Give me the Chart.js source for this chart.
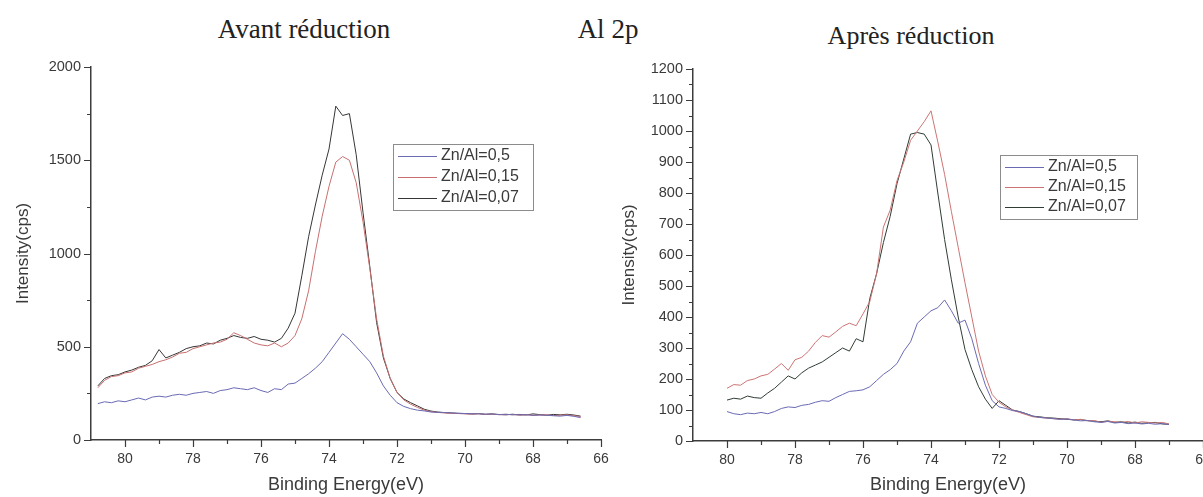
<!DOCTYPE html>
<html>
<head>
<meta charset="utf-8">
<script src="https://cdn.jsdelivr.net/npm/chart.js@4.4.0/dist/chart.umd.min.js"></script>
<style>
  html, body { margin: 0; padding: 0; background: #fff; }
  body { width: 1203px; height: 497px; position: relative; overflow: hidden; }
  .title {
    position: absolute;
    font-family: "Liberation Serif", "Times New Roman", serif;
    color: #222;
    line-height: 1;
    white-space: nowrap;
    transform: translateX(-50%);
  }
  canvas { position: absolute; top: 0; }
</style>
</head>
<body>
<div class="title" style="left:304px; top:16px; font-size:27px;">Avant réduction</div>
<div class="title" style="left:608px; top:16px; font-size:27px;">Al 2p</div>
<div class="title" style="left:911px; top:23px; font-size:26px;">Après réduction</div>
<canvas id="chartBefore" width="620" height="497" style="left:0"></canvas>
<canvas id="chartAfter" width="640" height="497" style="left:600px"></canvas>
<script>
// series names and colours
const seriesLabels = ['Zn/Al=0,5', 'Zn/Al=0,15', 'Zn/Al=0,07'];
const colorsBefore = ['#6a6ab4', '#c96f6f', '#363636'];
const colorsAfter = ['#6a6ab4', '#cc7474', '#2f3d33'];

// Avant réduction : binding energy (eV)
const energyBefore = [
  80.8, 80.6, 80.4, 80.2, 80.0, 79.8, 79.6, 79.4, 79.2, 79.0,
  78.8, 78.6, 78.4, 78.2, 78.0, 77.8, 77.6, 77.4, 77.2, 77.0,
  76.8, 76.6, 76.4, 76.2, 76.0, 75.8, 75.6, 75.4, 75.2, 75.0,
  74.8, 74.6, 74.4, 74.2, 74.0, 73.8, 73.6, 73.4, 73.2, 73.0,
  72.8, 72.6, 72.4, 72.2, 72.0, 71.8, 71.6, 71.4, 71.2, 71.0,
  70.8, 70.6, 70.4, 70.2, 70.0, 69.8, 69.6, 69.4, 69.2, 69.0,
  68.8, 68.6, 68.4, 68.2, 68.0, 67.8, 67.6, 67.4, 67.2, 67.0,
  66.8, 66.6
];
const zn05Before = [
  195, 205, 200, 210, 205, 215, 225, 215, 230, 235,
  230, 240, 245, 240, 250, 255, 260, 250, 265, 270,
  280, 275, 270, 280, 265, 255, 275, 270, 300, 305,
  330, 355, 385, 420, 470, 520, 570, 540, 500, 460,
  420, 360, 290, 240, 200, 180, 168, 160, 156, 150,
  148, 147, 145, 143, 142, 140, 141, 138, 139, 137,
  135, 138, 134, 136, 132, 134, 133, 130, 128, 132,
  127, 120
];
const zn015Before = [
  280, 320, 340, 345, 360, 365, 385, 395, 405, 420,
  430, 445, 465, 470, 490, 500, 510, 520, 525, 540,
  575, 560, 540, 520, 510, 505, 520, 500, 520, 560,
  650, 800, 1010, 1200, 1360, 1490, 1520, 1500, 1380, 1170,
  920, 650, 450, 330, 255, 215, 192, 175, 160, 152,
  148, 145, 143, 142, 140, 139, 141, 137, 138, 136,
  135, 138, 133, 136, 132, 134, 135, 131, 133, 135,
  130, 126
];
const zn007Before = [
  290, 330, 345, 350, 365, 375, 390, 400, 425, 485,
  440, 455, 470, 490, 500, 505, 520, 515, 535, 545,
  560, 550, 545, 555, 540, 535, 525, 545, 600, 680,
  880, 1090, 1260, 1420, 1560, 1790, 1740, 1750, 1530, 1220,
  930, 630, 440, 330, 255, 220, 200, 183, 165, 155,
  150, 147, 145, 143, 142, 140, 141, 138, 140, 136,
  138, 135, 137, 134, 140, 136, 133, 137, 135, 138,
  134, 128
];

// Après réduction : binding energy (eV)
const energyAfter = [
  80.0, 79.8, 79.6, 79.4, 79.2, 79.0, 78.8, 78.6, 78.4, 78.2,
  78.0, 77.8, 77.6, 77.4, 77.2, 77.0, 76.8, 76.6, 76.4, 76.2,
  76.0, 75.8, 75.6, 75.4, 75.2, 75.0, 74.8, 74.6, 74.4, 74.2,
  74.0, 73.8, 73.6, 73.4, 73.2, 73.0, 72.8, 72.6, 72.4, 72.2,
  72.0, 71.8, 71.6, 71.4, 71.2, 71.0, 70.8, 70.6, 70.4, 70.2,
  70.0, 69.8, 69.6, 69.4, 69.2, 69.0, 68.8, 68.6, 68.4, 68.2,
  68.0, 67.8, 67.6, 67.4, 67.2, 67.0
];
const zn05After = [
  95, 88, 85, 90, 88, 92, 88, 95, 105, 110,
  108, 115, 118, 125, 130, 128, 140, 150, 160, 162,
  165, 175, 195, 215, 230, 250, 290, 320, 380, 400,
  420, 430, 455, 420, 380, 390, 330, 250, 180, 130,
  110, 105, 98, 95, 88, 80, 76, 74, 72, 70,
  71, 68, 65, 66, 62, 60, 63, 58, 60, 56,
  58, 55, 57, 54, 56, 53
];
const zn015After = [
  170, 182, 180, 195, 200, 210, 215, 232, 250, 228,
  262, 270, 290, 318, 340, 335, 352, 370, 380, 372,
  410, 450, 540, 690, 745, 840, 900, 970, 1000, 1030,
  1065, 965, 860, 740, 625, 510, 400, 290, 210, 150,
  125, 110, 100, 92, 85, 78, 76, 74, 72, 70,
  72, 68, 70, 65, 66, 60, 64, 62, 60, 63,
  58, 62, 60, 58, 60, 55
];
const zn007After = [
  132, 138, 135, 145, 140, 138, 155, 170, 190, 210,
  200, 220, 235, 245, 255, 270, 285, 300, 290, 330,
  320, 460, 540, 640, 725, 830, 910, 990, 995, 990,
  955, 800, 650, 520, 400, 295, 230, 175, 135, 105,
  130, 115, 100, 95, 88, 80, 78, 75, 74, 72,
  70, 68, 69, 66, 64, 62, 65, 60, 62, 58,
  61, 57, 59, 60, 55, 54
];

const FONT = '"Liberation Sans", Arial, sans-serif';
const AXIS = '#3c3c3c';
const TEXT = '#3a3a3a';

function makeSeries(energy, values, label, color) {
  return {
    label: label,
    data: energy.map((e, i) => ({ x: e, y: values[i] })),
    borderColor: color,
    backgroundColor: color,
    borderWidth: 1,
    pointRadius: 0,
    tension: 0,
  };
}

// framed legend drawn inside the plot like Origin does
const boxLegend = {
  id: 'boxLegend',
  afterDraw(chart, args, opts) {
    const ctx = chart.ctx;
    ctx.save();
    ctx.lineWidth = 1;
    ctx.strokeStyle = '#8c8c8c';
    ctx.strokeRect(opts.x + 0.5, opts.y + 0.5, opts.w, opts.h);
    ctx.font = '16px ' + FONT;
    ctx.textBaseline = 'middle';
    ctx.fillStyle = TEXT;
    chart.data.datasets.forEach((ds, i) => {
      const yy = opts.y + opts.rowTop + i * opts.rowGap;
      ctx.strokeStyle = ds.borderColor;
      ctx.beginPath();
      ctx.moveTo(opts.x + 5, yy + 0.5);
      ctx.lineTo(opts.x + 44, yy + 0.5);
      ctx.stroke();
      ctx.fillText(ds.label, opts.x + 48, yy);
    });
    ctx.restore();
  }
};

// outward tick marks, long on labelled values and short in between
const axisTicks = {
  id: 'axisTicks',
  afterDraw(chart, args, opts) {
    const ctx = chart.ctx;
    const area = chart.chartArea;
    const xs = chart.scales.x;
    const ys = chart.scales.y;
    ctx.save();
    ctx.strokeStyle = AXIS;
    ctx.lineWidth = 1.2;
    ctx.beginPath();
    xs.ticks.forEach((t) => {
      const px = Math.round(xs.getPixelForValue(t.value)) + 0.5;
      const len = t.value % 2 === 0 ? 7 : 4;
      ctx.moveTo(px, area.bottom);
      ctx.lineTo(px, area.bottom + len);
    });
    ys.ticks.forEach((t) => {
      const py = Math.round(ys.getPixelForValue(t.value)) + 0.5;
      const len = t.value % opts.yMajor === 0 ? 7 : 4;
      ctx.moveTo(area.left, py);
      ctx.lineTo(area.left - len, py);
    });
    ctx.stroke();
    ctx.restore();
  }
};

function makeChart(id, cfg) {
  return new Chart(document.getElementById(id), {
    type: 'line',
    data: {
      datasets: cfg.values.map((v, i) => makeSeries(cfg.energy, v, seriesLabels[i], cfg.colors[i])),
    },
    options: {
      responsive: false,
      animation: false,
      events: [],
      layout: { padding: cfg.padding },
      plugins: {
        legend: { display: false },
        tooltip: { enabled: false },
        boxLegend: cfg.legend,
        axisTicks: { yMajor: cfg.yMajor },
      },
      scales: {
        x: {
          type: 'linear',
          reverse: true,
          min: 66,
          max: 81,
          afterFit: (s) => { s.height = cfg.xHeight; },
          afterBuildTicks: (s) => { s.ticks = s.ticks.filter((t) => t.value < 81); },
          border: { display: true, color: AXIS, width: 1.5 },
          grid: { drawOnChartArea: false, drawTicks: false },
          ticks: {
            stepSize: 1,
            autoSkip: false,
            maxRotation: 0,
            padding: 11,
            color: TEXT,
            font: { family: FONT, size: 14 },
            callback: (v) => (v % 2 === 0 ? v : ''),
          },
          title: {
            display: true,
            text: 'Binding Energy(eV)',
            color: TEXT,
            font: { family: FONT, size: 18 },
            padding: { top: 0, bottom: 1 },
          },
        },
        y: {
          min: 0,
          max: cfg.yMax,
          afterFit: (s) => { s.width = cfg.yWidth; },
          border: { display: true, color: AXIS, width: 1.5 },
          grid: { drawOnChartArea: false, drawTicks: false },
          ticks: {
            stepSize: cfg.yMinor,
            autoSkip: false,
            padding: 10,
            color: TEXT,
            font: { family: FONT, size: 14.5 },
            callback: (v) => (v % cfg.yMajor === 0 ? v : ''),
          },
          title: {
            display: true,
            text: 'Intensity(cps)',
            color: TEXT,
            font: { family: FONT, size: 17 },
            padding: { top: cfg.yTitlePad, bottom: 0 },
          },
        },
      },
    },
    plugins: [boxLegend, axisTicks],
  });
}

makeChart('chartBefore', {
  energy: energyBefore,
  values: [zn05Before, zn015Before, zn007Before],
  colors: colorsBefore,
  padding: { left: 0, top: 67, right: 19, bottom: 0 },
  yWidth: 91,
  xHeight: 57,
  yMax: 2000,
  yMajor: 500,
  yMinor: 250,
  yTitlePad: 13,
  legend: { x: 393, y: 144, w: 140, h: 66, rowTop: 12, rowGap: 21 },
});

makeChart('chartAfter', {
  energy: energyAfter,
  values: [zn05After, zn015After, zn007After],
  colors: colorsAfter,
  padding: { left: 10, top: 69, right: 37, bottom: 0 },
  yWidth: 83,
  xHeight: 56,
  yMax: 1200,
  yMajor: 100,
  yMinor: 50,
  yTitlePad: 9,
  legend: { x: 400, y: 155, w: 137, h: 64, rowTop: 12, rowGap: 20 },
});
</script>
</body>
</html>
